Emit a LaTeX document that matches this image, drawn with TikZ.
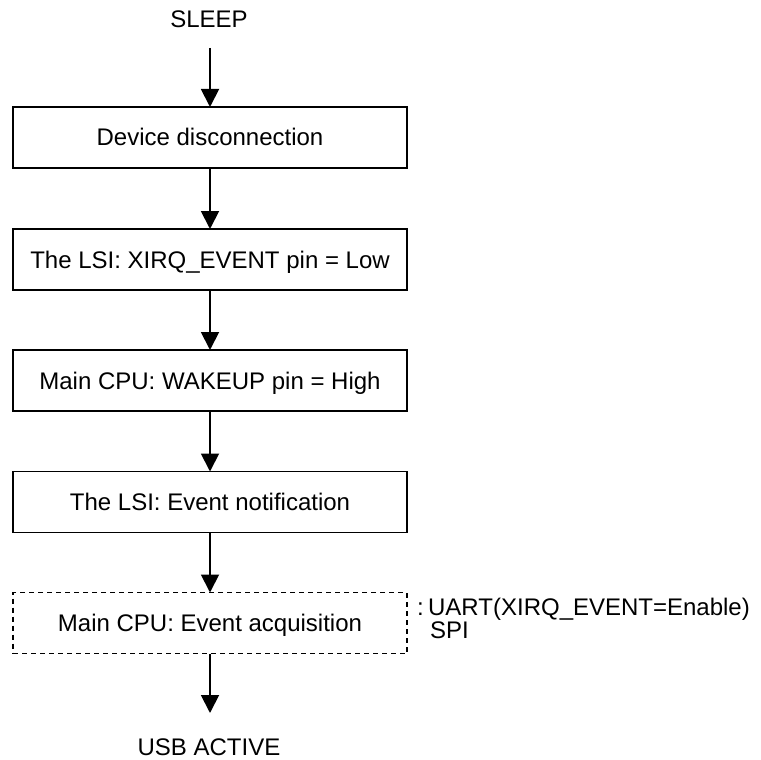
\documentclass[tikz,border=0pt]{standalone}
\usepackage{fontspec}
\setmainfont{Liberation Sans}
\usetikzlibrary{arrows.meta}
\begin{document}
\begin{tikzpicture}[x=1pt,y=-1pt,
  lbl/.style={font=\fontsize{24}{24}\selectfont, inner sep=0pt, outer sep=0pt,
              text height=17pt, text depth=0pt},
  stepbox/.style={lbl, draw, line width=1.9pt, minimum width=394pt, minimum height=61pt},
  optbox/.style={stepbox, dash pattern=on 5pt off 4pt},
  flow/.style={line width=1.9pt, -{Triangle[width=18pt,length=18pt]}}
]
\useasboundingbox (0,0) rectangle (761,760);

% start and end states
\node[lbl, anchor=base] (sleep) at (209,28) {SLEEP};
\node[lbl, anchor=base] (usb) at (209,755) {USB ACTIVE};

% processing steps
\node[stepbox] (b1) at (210,137.5) {Device disconnection};
\node[stepbox] (b2) at (210,259.5) {The LSI: XIRQ\_EVENT pin = Low};
\node[stepbox] (b3) at (210,380.5) {Main CPU: WAKEUP pin = High};
\node[stepbox] (b4) at (210,502) {The LSI: Event notification};
\node[optbox]  (b5) at (210,623) {Main CPU: Event acquisition};

% interface note beside the last step
\node[lbl, anchor=base west] (ann1) at (417,615) {:\hspace{4.5pt}UART(XIRQ\_EVENT=Enable)};
\node[lbl, anchor=base west] (ann2) at (430,638) {SPI};

% flow arrows
\draw[flow, shorten <=20pt] (sleep.south -| b1.north) -- (b1.north);
\draw[flow] (b1) -- (b2);
\draw[flow] (b2) -- (b3);
\draw[flow] (b3) -- (b4);
\draw[flow] (b4) -- (b5);
\draw[flow, shorten >=25pt] (b5.south) -- (b5.south |- usb.north);
\end{tikzpicture}
\end{document}
